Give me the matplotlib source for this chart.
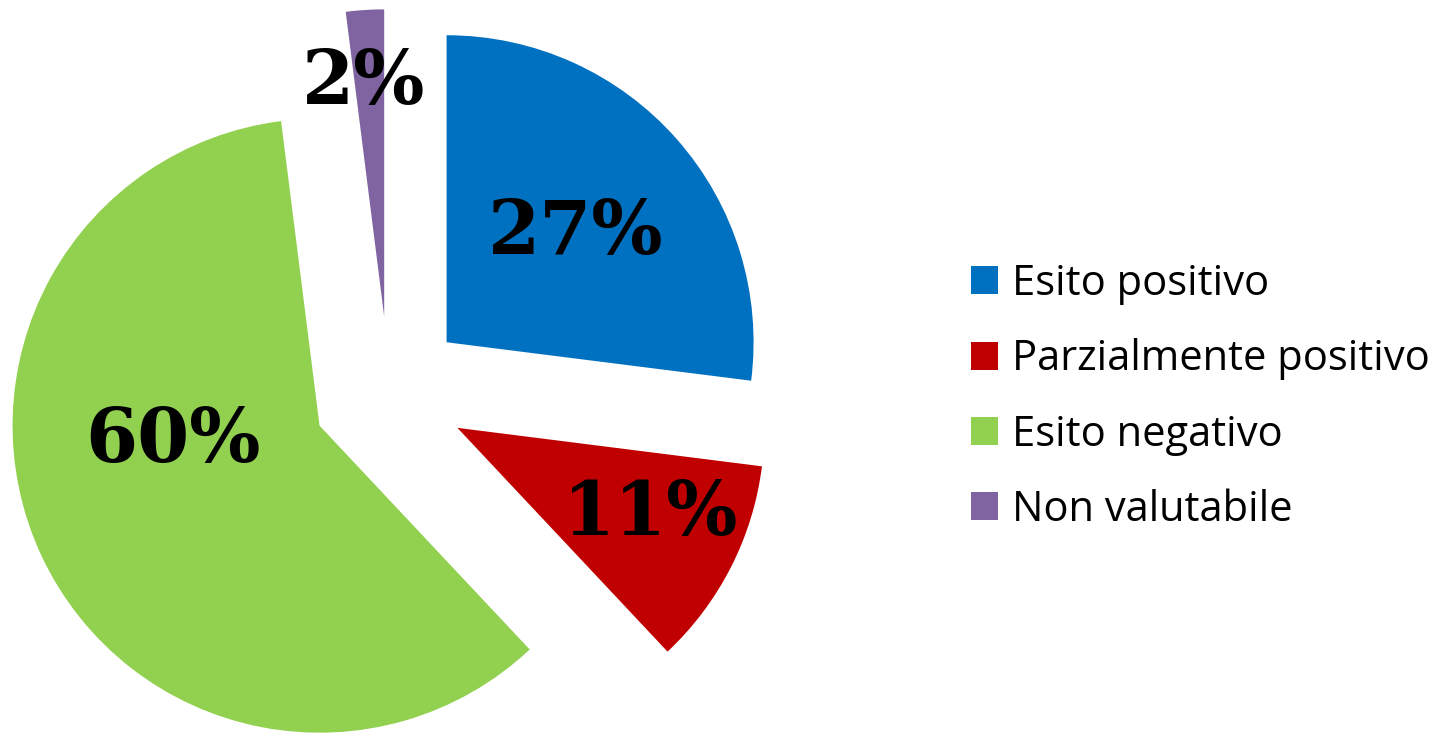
import numpy as np
import matplotlib.pyplot as plt

# --- data ---
categories = ['Esito positivo', 'Parzialmente positivo', 'Esito negativo', 'Non valutabile']
shares = [27, 11, 60, 2]
colors = ['#0070C0', '#C00000', '#92D050', '#8064A2']

# --- layout (label placement relative to each exploded wedge) ---
label_dist = [0.55, 0.69, 0.48, 0.76]
label_angle = [40, -24, 186, 95]
px_per_unit = 307.0

fig = plt.figure(figsize=(14.42, 7.33), dpi=100)
ax = fig.add_axes([0, 0, 1, 1])

wedges, _ = ax.pie(shares, colors=colors, startangle=90, counterclock=False,
                   explode=[0.25] * len(shares), radius=1,
                   wedgeprops=dict(linewidth=0))

# percentage labels
for w, v, d, a in zip(wedges, shares, label_dist, label_angle):
    cx, cy = w.center
    x = cx + d * np.cos(np.deg2rad(a))
    y = cy + d * np.sin(np.deg2rad(a))
    ax.text(x, y, f'{v}%', ha='center', va='center', fontsize=54,
            fontweight='heavy', family='DejaVu Serif', color='black')

# pixel-matched limits: pie centre at (389, 393) px in a 1442x733 image
cx_px, cy_px = 389, 393
ax.set_xlim(-cx_px / px_per_unit, (1442 - cx_px) / px_per_unit)
ax.set_ylim(-(733 - cy_px) / px_per_unit, cy_px / px_per_unit)
ax.set_aspect('auto')
ax.axis('off')

leg = ax.legend(wedges, categories, loc='center left',
                bbox_to_anchor=(971 / 1442, 1 - 397 / 733),
                frameon=False, handlelength=0.65, handleheight=0.65,
                handletextpad=0.33, labelspacing=0.8, borderaxespad=0,
                borderpad=0, prop=dict(family='Open Sans', size=30))

fig.savefig('out.png', dpi=100)
